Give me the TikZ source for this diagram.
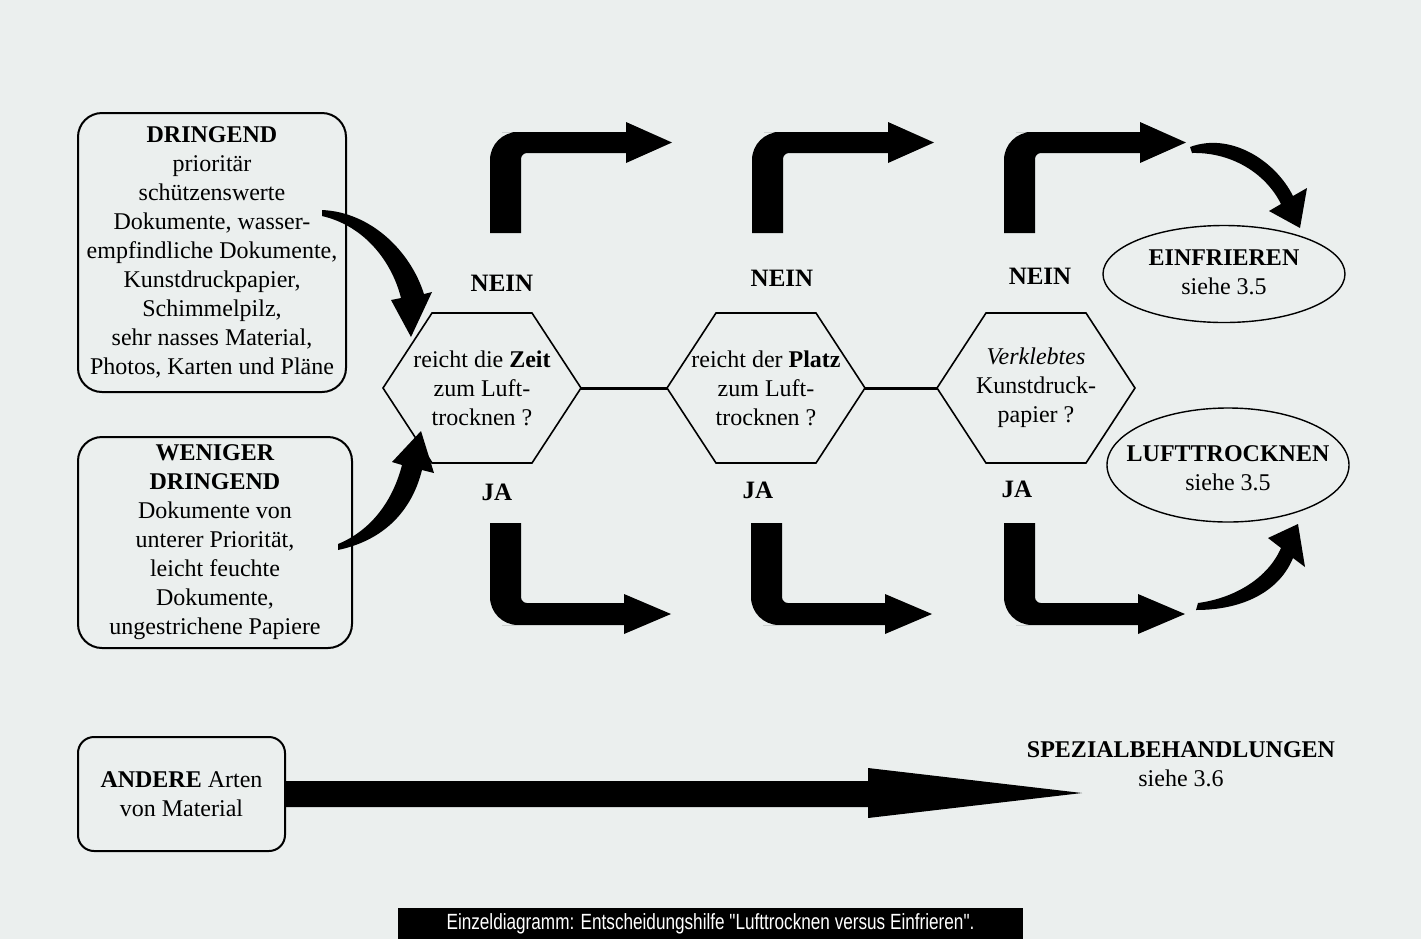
\documentclass[tikz,border=0pt]{standalone}
\usepackage{fontspec}
\setmainfont{Liberation Serif}
\newfontfamily\capfont[FakeStretch=0.78]{Liberation Sans}
\usetikzlibrary{shapes.geometric}
\definecolor{scan}{RGB}{235,239,238}

% hexagon round a question node, with tips (#1-w) and (#1-e)
\newcommand{\hexagon}[1]{%
  \draw[line width=0.8pt] (#1.center) ++(-99,0) coordinate (#1-w) -- ++(49,-75) -- ++(100,0)
    -- ++(49,75) coordinate (#1-e) -- ++(-49,75) -- ++(-100,0) -- cycle;}

\begin{document}
\begin{tikzpicture}[x=0.5pt,y=-0.5pt,
  every node/.style={font=\fontsize{12}{14.5}\selectfont, align=center, inner sep=0pt},
  group/.style={draw, line width=1pt, rounded corners=12pt},
  verdict/.style={font=\fontsize{12.5}{14}\selectfont\bfseries},
  oval/.style={draw, ellipse, line width=0.7pt},
  turnup/.pic={\fill (0,0) [rounded corners=14pt] -- (0,-101) -- (40,-101) [sharp corners] -- (136,-101)
    -- (136,-111) -- (182,-90.5) -- (136,-70) -- (136,-80) [rounded corners=3pt] -- (31,-80) -- (31,-50)
    [sharp corners] -- (31,0) -- cycle;},
  turndown/.pic={\fill (0,0) [rounded corners=14pt] -- (0,102) -- (40,102) [sharp corners] -- (134,102)
    -- (134,111) -- (181,91) -- (134,71) -- (134,80) [rounded corners=3pt] -- (31,80) -- (31,50)
    [sharp corners] -- (31,0) -- cycle;}]
\fill[scan] (0,0) rectangle (1421,939);
\useasboundingbox (0,0) rectangle (1421,939);

% material groups
\node[group, minimum width=134pt, minimum height=139.5pt] (urgent) at (212,252.5)
  {\textbf{DRINGEND}\\prioritär\\schützenswerte\\Dokumente, wasser-\\empfindliche Dokumente,\\Kunstdruckpapier,\\Schimmelpilz,\\sehr nasses Material,\\Photos, Karten und Pläne};
\node[group, minimum width=137pt, minimum height=105.5pt] (lessurgent) at (215,542.5)
  {\textbf{WENIGER}\\\textbf{DRINGEND}\\Dokumente von\\unterer Priorität,\\leicht feuchte\\Dokumente,\\ungestrichene Papiere};
\node[group, minimum width=103.5pt, minimum height=57pt, rounded corners=8pt] (other) at (181.5,794)
  {\textbf{ANDERE} Arten\\von Material};

% questions
\node (time) at (482,388) {reicht die \textbf{Zeit}\\zum Luft-\\trocknen ?};
\node (space) at (766,388) {reicht der \textbf{Platz}\\zum Luft-\\trocknen ?};
\node (glued) at (1036,388) {\textit{Verklebtes}\\Kunstdruck-\\papier ?};
\hexagon{time}
\hexagon{space}
\hexagon{glued}
\draw[line width=1.5pt] (time-e) -- (space-w) (space-e) -- (glued-w);

\node[verdict] (no1) at (502,283) {NEIN};
\node[verdict] (no2) at (782,278) {NEIN};
\node[verdict] (no3) at (1040,276) {NEIN};
\node[verdict] (yes1) at (497,492) {JA};
\node[verdict] (yes2) at (758,490) {JA};
\node[verdict] (yes3) at (1017,489) {JA};

\pic at (490,233) {turnup};
\pic at (752,233) {turnup};
\pic at (1004,233) {turnup};
\pic at (490,523) {turndown};
\pic at (751,523) {turndown};
\pic at (1004,523) {turndown};

% results
\node[oval, minimum width=121pt, minimum height=48.5pt] (freeze) at (1224,274) {};
\node (freezetext) at (1224,272.5) {\textbf{EINFRIEREN}\\siehe 3.5};
\node[oval, minimum width=121pt, minimum height=57pt] (airdry) at (1228,465) {};
\node (airdrytext) at (1228,468.5) {\textbf{LUFTTROCKNEN}\\siehe 3.5};
\node (special) at (1181,764.5) {\textbf{SPEZIALBEHANDLUNGEN}\\siehe 3.6};

% curved arrows
\fill (322,210) .. controls (370,212) and (410,250) .. (424,294) -- (432,292) -- (411,337)
  -- (391,300) -- (401,298) .. controls (392,262) and (365,226) .. (322,216) -- cycle;
\fill (338,550) .. controls (385,540) and (412,510) .. (422,470) -- (434,473) -- (421,431)
  -- (392,462) -- (402,465) .. controls (393,500) and (372,530) .. (338,544) -- cycle;
\fill (1190,147) .. controls (1230,132) and (1275,160) .. (1293,196) -- (1307,188) -- (1300,228)
  -- (1269,211) -- (1281,204) .. controls (1265,172) and (1230,152) .. (1192,153) -- cycle;
\fill (1196,610) .. controls (1245,610) and (1280,590) .. (1293,558) -- (1305,567) -- (1298,524)
  -- (1268,538) -- (1281,548) .. controls (1268,578) and (1235,598) .. (1198,603) -- cycle;

% long arrow
\coordinate (spectip) at (1082,793);
\fill (other.east) ++(0,-13) -- (868,781) -- (868,768) -- (spectip) -- (868,818) -- (868,807)
  -- (285,807) -- cycle;

\node[fill=black, text=white, minimum width=312.5pt, minimum height=15.5pt,
  font=\capfont\fontsize{11}{12}\selectfont] (caption) at (710.5,923.5)
  {Einzeldiagramm: Entscheidungshilfe "Lufttrocknen versus Einfrieren".};
\end{tikzpicture}
\end{document}
